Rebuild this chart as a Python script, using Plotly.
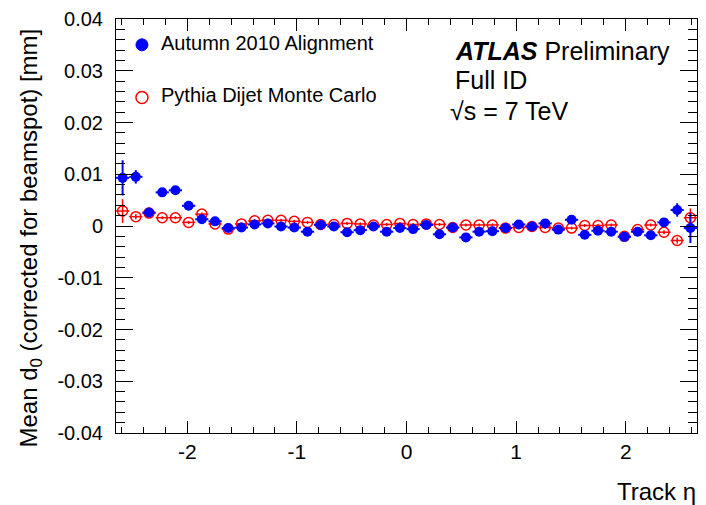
import numpy as np
import plotly.graph_objects as go

# binning in track eta
eta_min, eta_max, n_bins = -2.65, 2.65, 44
edges = np.linspace(eta_min, eta_max, n_bins + 1)
eta = 0.5 * (edges[:-1] + edges[1:])
half_bin = 0.5 * (edges[1] - edges[0])

data_d0 = [0.0093, 0.0095, 0.0026, 0.0065, 0.0069, 0.0039, 0.0013, 0.0009, -0.0004, -0.0003,
           0.0003, 0.0005, -0.0001, -0.0003, -0.0011, 0.0002, -0.0001, -0.0012, -0.0008, -0.0001,
           -0.0011, -0.0004, -0.0006, 0.0002, -0.0016, -0.0003, -0.0022, -0.0011, -0.0010, -0.0004,
           0.0003, -0.0001, 0.0005, -0.0007, 0.0012, -0.0017, -0.0009, -0.0011, -0.0021, -0.0011,
           -0.0018, 0.0007, 0.0031, -0.0004]
data_err = [0.0034, 0.0013, 0.0008, 0.0006, 0.0006, 0.0005, 0.0004, 0.0004, 0.0003, 0.0003,
            0.0003, 0.0003, 0.0003, 0.0003, 0.0003, 0.0003, 0.0003, 0.0003, 0.0003, 0.0003,
            0.0003, 0.0003, 0.0003, 0.0003, 0.0003, 0.0003, 0.0003, 0.0003, 0.0003, 0.0003,
            0.0003, 0.0003, 0.0003, 0.0003, 0.0004, 0.0004, 0.0004, 0.0004, 0.0004, 0.0004,
            0.0005, 0.0006, 0.0013, 0.0029]
mc_d0 = [0.0029, 0.0018, 0.0025, 0.0016, 0.0016, 0.0007, 0.0023, 0.0004, -0.0006, 0.0004,
         0.0010, 0.0011, 0.0011, 0.0009, 0.0007, 0.0003, 0.0003, 0.0005, 0.0004, 0.0002,
         0.0003, 0.0005, 0.0003, 0.0004, 0.0003, -0.0003, 0.0002, 0.0002, 0.0002, -0.0004,
         -0.0003, -0.0001, -0.0003, -0.0004, -0.0004, 0.0001, 0.0001, 0.0002, -0.0020, -0.0007,
         0.0002, -0.0012, -0.0028, 0.0016]
mc_err = [0.0023, 0.0005, 0.0003, 0.0003, 0.0003, 0.0003, 0.0003, 0.0003, 0.0003, 0.0003,
          0.0003, 0.0003, 0.0003, 0.0003, 0.0003, 0.0003, 0.0003, 0.0003, 0.0003, 0.0003,
          0.0003, 0.0003, 0.0003, 0.0003, 0.0003, 0.0003, 0.0003, 0.0003, 0.0003, 0.0003,
          0.0003, 0.0003, 0.0003, 0.0003, 0.0003, 0.0003, 0.0003, 0.0003, 0.0003, 0.0003,
          0.0003, 0.0004, 0.0006, 0.0018]

y_ticks = [-0.04, -0.03, -0.02, -0.01, 0, 0.01, 0.02, 0.03, 0.04]
y_tick_text = ["-0.04", "-0.03", "-0.02", "-0.01", "0", "0.01", "0.02", "0.03", "0.04"]
x_ticks = [-2, -1, 0, 1, 2]
x_tick_text = ["-2", "-1", "0", "1", "2"]

BLUE = "#0000ff"
RED = "#ff0000"
FONT = "Liberation Sans, Arial, sans-serif"

fig = go.Figure()
fig.add_trace(go.Scatter(
    x=eta, y=mc_d0, mode="markers", name="Pythia Dijet Monte Carlo",
    marker=dict(symbol="circle-open", size=10, color=RED, line=dict(width=1.5, color=RED)),
    error_y=dict(type="data", array=mc_err, color=RED, thickness=1.5, width=0),
    error_x=dict(type="constant", value=half_bin, color=RED, thickness=1.5, width=0),
    showlegend=False))
fig.add_trace(go.Scatter(
    x=eta, y=data_d0, mode="markers", name="Autumn 2010 Alignment",
    marker=dict(symbol="circle", size=10, color=BLUE),
    error_y=dict(type="data", array=data_err, color=BLUE, thickness=2, width=0),
    error_x=dict(type="constant", value=half_bin, color=BLUE, thickness=2, width=0),
    showlegend=False))

L, R, T, B = 116, 8, 16, 72
W, H = 706, 505
pw, ph = W - L - R, H - T - B

def px(xp):
    return (xp - L) / pw

def py(yp):
    return (H - B - yp) / ph

fig.update_layout(
    width=W, height=H,
    margin=dict(l=L, r=R, t=T, b=B, pad=0),
    paper_bgcolor="white", plot_bgcolor="white",
    font=dict(family=FONT, color="black"),
    showlegend=False,
    xaxis=dict(range=[eta_min, eta_max], tickvals=x_ticks, ticktext=x_tick_text,
               ticks="inside", ticklen=12, tickwidth=1, tickcolor="black",
               mirror="allticks", showline=True, linecolor="black", linewidth=1,
               showgrid=False, zeroline=False, tickfont=dict(size=21),
               ticklabelstandoff=0,
               minor=dict(ticks="inside", ticklen=6, dtick=0.2, tick0=0, tickcolor="black", showgrid=False)),
    yaxis=dict(range=[-0.04, 0.04], tickvals=y_ticks, ticktext=y_tick_text,
               ticks="inside", ticklen=17, tickwidth=1, tickcolor="black",
               mirror="allticks", showline=True, linecolor="black", linewidth=1,
               showgrid=False, zeroline=False, tickfont=dict(size=20),
               ticklabelstandoff=8,
               minor=dict(ticks="inside", ticklen=9, dtick=0.002, tick0=0, tickcolor="black", showgrid=False)),
)

# legend markers
fig.add_shape(type="circle", xref="paper", yref="paper", xsizemode="pixel", ysizemode="pixel",
              xanchor=px(142), yanchor=py(42), x0=-6, x1=6, y0=-6, y1=6,
              fillcolor=BLUE, line=dict(color=BLUE, width=1))
fig.add_shape(type="circle", xref="paper", yref="paper", xsizemode="pixel", ysizemode="pixel",
              xanchor=px(142), yanchor=py(95), x0=-6, x1=6, y0=-6, y1=6,
              fillcolor="white", line=dict(color=RED, width=1.5))

def label(text, xp, yp, size, xanchor="left", **kw):
    fig.add_annotation(text=text, xref="paper", yref="paper", x=px(xp), y=py(yp),
                       xanchor=xanchor, yanchor="middle", showarrow=False,
                       font=dict(size=size, family=FONT, color="black"), **kw)

label("Autumn 2010 Alignment", 159, 40, 20)
label("Pythia Dijet Monte Carlo", 159, 93, 20)
label("<b><i>ATLAS</i></b> Preliminary", 454, 48, 25)
label("Full ID", 454, 77, 25)
label("√s = 7 TeV", 449, 109, 25)
label("Track η", 699, 492, 24, xanchor="right")
fig.add_annotation(text="Mean d<sub>0</sub> (corrected for beamspot) [mm]", xref="paper", yref="paper",
                   x=px(30), y=py(237), textangle=-90, xanchor="center", yanchor="middle",
                   showarrow=False, font=dict(size=24, family=FONT, color="black"))

fig.write_html("out.html", config={"displayModeBar": False},
               post_script="document.body.style.margin='0';document.body.style.overflow='hidden';")
